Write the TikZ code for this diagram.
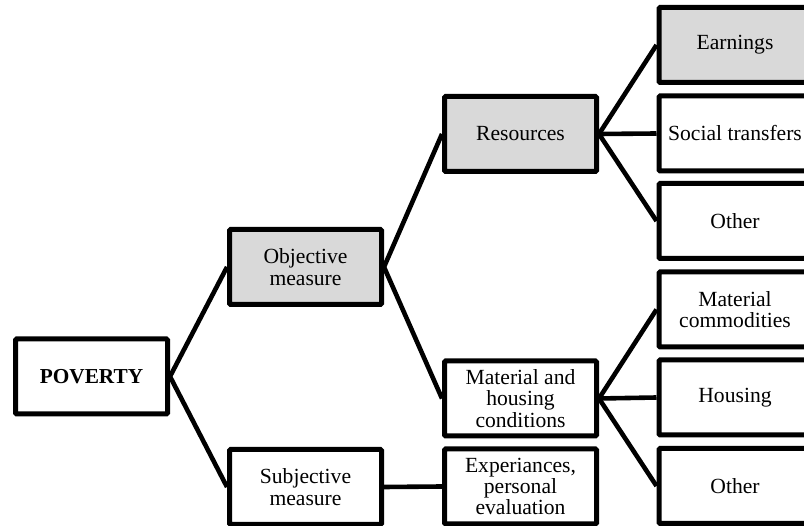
\documentclass[tikz,border=0pt]{standalone}
\usepackage{fontspec}
\setmainfont{Liberation Serif}
\definecolor{boxgray}{HTML}{D9D9D9}
\begin{document}
\begin{tikzpicture}[x=1pt,y=-1pt,
  box/.style={draw=black, line width=5pt, rounded corners=1.2pt, fill=white,
    minimum width=152pt, minimum height=75pt, inner sep=2pt, align=center,
    font=\fontsize{21.6}{21.3}\selectfont},
  graybox/.style={box, fill=boxgray},
  link/.style={line width=4.6pt}]
\useasboundingbox (0,0) rectangle (804,526);
\clip (0,0) rectangle (804,526);
\node[box, font=\fontsize{21.3}{21.3}\selectfont\bfseries] (pov) at (91.5,376.5) {POVERTY};
\node[graybox] (obj) at (305.5,267) {Objective\\measure};
\node[box] (subj) at (305.5,487) {Subjective\\measure};
\node[graybox] (res) at (520.5,134) {Resources};
\node[box] (mat) at (520.5,398.5) {Material and\\housing\\conditions};
\node[box] (exp) at (520.5,486.5) {Experiances,\\personal\\evaluation};
\node[graybox] (earn) at (735,45) {Earnings};
\node[box] (soc) at (735,133.5) {Social transfers};
\node[box] (oth1) at (735,221) {Other};
\node[box] (mc) at (735,309.5) {Material\\commodities};
\node[box] (hous) at (735,397.5) {Housing};
\node[box] (oth2) at (735,486) {Other};
\draw[link] (pov.east) -- (obj.west);
\draw[link] (pov.east) -- (subj.west);
\draw[link] (obj.east) -- (res.west);
\draw[link] (obj.east) -- (mat.west);
\draw[link] (subj.east) -- (exp.west);
\draw[link] (res.east) -- (earn.west);
\draw[link] (res.east) -- (soc.west);
\draw[link] (res.east) -- (oth1.west);
\draw[link] (mat.east) -- (mc.west);
\draw[link] (mat.east) -- (hous.west);
\draw[link] (mat.east) -- (oth2.west);
\end{tikzpicture}
\end{document}
